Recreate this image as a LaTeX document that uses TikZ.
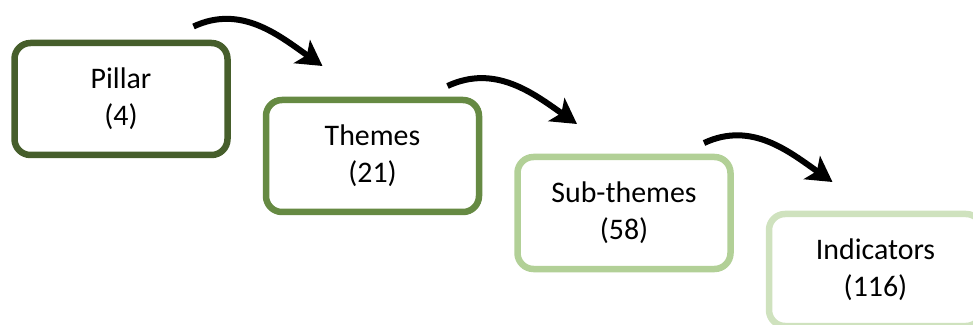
\documentclass[tikz,border=0pt]{standalone}
\usepackage{fontspec}
\setmainfont{Carlito}
\usetikzlibrary{positioning, arrows.meta}

\definecolor{lvlone}{HTML}{465E2B}
\definecolor{lvltwo}{HTML}{668A43}
\definecolor{lvlthree}{HTML}{B2D097}
\definecolor{lvlfour}{HTML}{CFE2BE}

\tikzset{
	level/.style={draw, rounded corners=0.32cm, line width=0.13cm, fill=white,
		minimum width=4.26cm, minimum height=2.24cm, align=center,
		font=\fontsize{17}{21}\selectfont},
	down/.style={line width=0.12cm, -{Stealth[length=0.5cm, width=0.56cm, inset=0.12cm]},
		out=25, in=145}
}

\begin{document}
\begin{tikzpicture}
		\useasboundingbox (0,0) rectangle (19.46,-6.5);
		
		\node[level, draw=lvlone] (pillar) at (2.42,-1.98) {Pillar\\(4)};
		\node[level, draw=lvltwo, right=0.64cm of pillar.east, yshift=-1.14cm] (themes) {Themes\\(21)};
		\node[level, draw=lvlthree, right=0.64cm of themes.east, yshift=-1.14cm] (subthemes) {Sub-themes\\(58)};
		\node[level, draw=lvlfour, right=0.64cm of subthemes.east, yshift=-1.14cm] (indicators) {Indicators\\(116)};
		
		% curved arrows from one level down to the next
		\coordinate[above right=1.45cm and 1.45cm of pillar.center] (a1s);
		\coordinate[above left=1.8cm and 1.0cm of themes.center] (a1e);
		\draw[down] (a1s) to (a1e);
		
		\coordinate[above right=1.4cm and 1.5cm of themes.center] (a2s);
		\coordinate[above left=1.78cm and 0.94cm of subthemes.center] (a2e);
		\draw[down] (a2s) to (a2e);
		
		\coordinate[above right=1.4cm and 1.6cm of subthemes.center] (a3s);
		\coordinate[above left=1.76cm and 0.86cm of indicators.center] (a3e);
		\draw[down] (a3s) to (a3e);
		
	\end{tikzpicture}
\end{document}
